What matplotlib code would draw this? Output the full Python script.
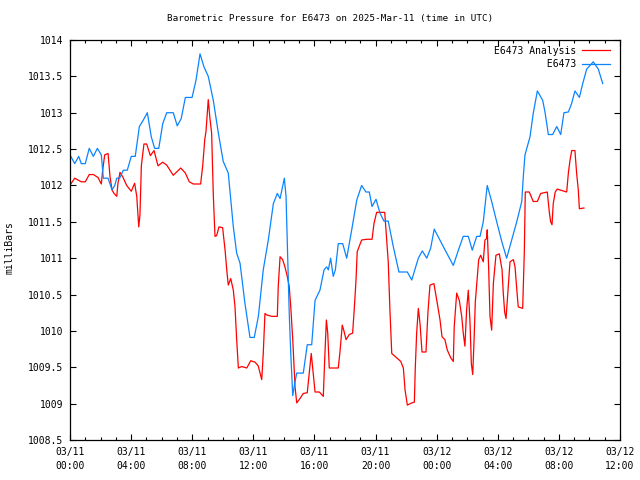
import numpy as np
import pandas as pd
import matplotlib
matplotlib.use('Agg')
import matplotlib.pyplot as plt
import matplotlib.dates as mdates
from matplotlib.ticker import MultipleLocator, FormatStrFormatter

# 观测值 (E6473) —— 距 2025-03-11 00:00 的小时数, 以及气压 (mb)
obs_hours = [0.05, 0.31, 0.57, 0.74, 1.00, 1.26, 1.53, 1.79, 2.05, 2.18, 2.49, 2.75, 2.93,
             3.06, 3.25, 3.49, 3.75, 4.01, 4.27, 4.54, 4.80, 5.06, 5.32, 5.54, 5.81, 6.07,
             6.33, 6.76, 7.02, 7.28, 7.55, 7.99, 8.25, 8.51, 8.77, 9.05, 9.38, 9.71, 10.03,
             10.36, 10.69, 10.91, 11.13, 11.45, 11.78, 12.06, 12.33, 12.65, 12.98, 13.31,
             13.57, 13.75, 13.96, 14.03, 14.14, 14.22, 14.35, 14.45, 14.58, 14.71, 14.84,
             15.27, 15.53, 15.82, 16.04, 16.36, 16.63, 16.80, 16.91, 17.06, 17.23, 17.37,
             17.56, 17.85, 18.11, 18.44, 18.77, 19.09, 19.37, 19.59, 19.77, 20.03, 20.29,
             20.55, 20.83, 21.16, 21.53, 22.08, 22.37, 22.80, 23.06, 23.35, 23.61, 23.84,
             24.43, 25.09, 25.42, 25.74, 26.07, 26.33, 26.62, 26.84, 27.05, 27.31, 27.60,
             27.93, 28.26, 28.58, 28.91, 29.24, 29.57, 29.67, 29.78, 30.11, 30.32, 30.59,
             30.94, 31.09, 31.31, 31.59, 31.86, 32.12, 32.33, 32.62, 32.84, 33.05, 33.34,
             33.56, 33.82, 34.25, 34.58, 34.87]
obs_mb = [1012.40, 1012.30, 1012.40, 1012.30, 1012.30, 1012.51, 1012.40, 1012.51, 1012.42,
          1012.10, 1012.10, 1011.94, 1012.00, 1012.10, 1012.10, 1012.21, 1012.21, 1012.40,
          1012.40, 1012.81, 1012.90, 1013.00, 1012.67, 1012.51, 1012.51, 1012.85, 1013.00,
          1013.00, 1012.82, 1012.92, 1013.21, 1013.21, 1013.45, 1013.81, 1013.63, 1013.50,
          1013.17, 1012.72, 1012.33, 1012.17, 1011.43, 1011.07, 1010.93, 1010.38, 1009.91,
          1009.91, 1010.20, 1010.84, 1011.25, 1011.75, 1011.89, 1011.82, 1012.03, 1012.10,
          1011.85, 1011.25, 1010.24, 1009.69, 1009.11, 1009.28, 1009.42, 1009.42, 1009.81,
          1009.81, 1010.42, 1010.56, 1010.84, 1010.88, 1010.84, 1011.00, 1010.75, 1010.84,
          1011.20, 1011.20, 1011.00, 1011.39, 1011.80, 1012.00, 1011.91, 1011.91, 1011.71,
          1011.81, 1011.62, 1011.51, 1011.51, 1011.16, 1010.81, 1010.81, 1010.70, 1011.00,
          1011.10, 1011.00, 1011.14, 1011.40, 1011.16, 1010.90, 1011.11, 1011.30, 1011.30,
          1011.11, 1011.30, 1011.30, 1011.50, 1012.00, 1011.78, 1011.50, 1011.23, 1011.00,
          1011.25, 1011.50, 1011.78, 1012.12, 1012.42, 1012.67, 1012.99, 1013.30, 1013.17,
          1013.01, 1012.70, 1012.70, 1012.81, 1012.70, 1013.00, 1013.01, 1013.13, 1013.30,
          1013.21, 1013.40, 1013.60, 1013.70, 1013.60, 1013.40]

# 分析值 (E6473 Analysis)
ana_hours = [0.05, 0.31, 0.74, 1.00, 1.26, 1.53, 1.83, 2.05, 2.14, 2.27, 2.49, 2.62, 2.75,
             2.88, 3.06, 3.14, 3.27, 3.45, 3.71, 4.01, 4.23, 4.37, 4.50, 4.58, 4.67, 4.84,
             5.02, 5.26, 5.50, 5.76, 6.07, 6.33, 6.76, 7.25, 7.55, 7.81, 8.07, 8.55, 8.69,
             8.82, 8.90, 9.05, 9.16, 9.27, 9.38, 9.49, 9.60, 9.75, 9.99, 10.15, 10.26,
             10.36, 10.52, 10.69, 10.80, 10.91, 11.02, 11.24, 11.57, 11.83, 12.11, 12.32,
             12.44, 12.55, 12.65, 12.76, 12.87, 13.20, 13.57, 13.63, 13.75, 13.92, 14.07,
             14.22, 14.35, 14.45, 14.58, 14.73, 14.84, 15.05, 15.27, 15.53, 15.66, 15.79,
             15.92, 16.04, 16.32, 16.58, 16.67, 16.78, 16.87, 16.97, 17.56, 17.67, 17.82,
             17.93, 18.07, 18.28, 18.50, 18.63, 18.72, 18.80, 19.09, 19.42, 19.77, 19.90,
             20.07, 20.60, 20.73, 20.83, 20.94, 21.06, 21.38, 21.65, 21.82, 21.93, 22.08,
             22.37, 22.54, 22.60, 22.69, 22.80, 22.91, 23.04, 23.30, 23.43, 23.56, 23.82,
             24.04, 24.22, 24.35, 24.54, 24.69, 24.92, 25.09, 25.15, 25.31, 25.48, 25.64,
             25.74, 25.85, 25.96, 26.07, 26.18, 26.27, 26.36, 26.44, 26.53, 26.62, 26.75,
             26.88, 27.05, 27.16, 27.27, 27.31, 27.40, 27.49, 27.60, 27.71, 27.88, 28.10,
             28.28, 28.36, 28.45, 28.54, 28.67, 28.80, 29.02, 29.13, 29.24, 29.34, 29.63,
             29.67, 29.74, 29.80, 30.06, 30.32, 30.59, 30.81, 31.24, 31.37, 31.46, 31.55,
             31.63, 31.76, 31.89, 32.51, 32.62, 32.73, 32.84, 33.05, 33.16, 33.27, 33.34,
             33.64]
ana_mb = [1012.02, 1012.10, 1012.05, 1012.05, 1012.15, 1012.15, 1012.11, 1012.02, 1012.21,
          1012.42, 1012.44, 1012.12, 1011.94, 1011.89, 1011.85, 1012.03, 1012.18, 1012.12,
          1012.00, 1011.92, 1012.03, 1011.85, 1011.43, 1011.60, 1012.27, 1012.57, 1012.57,
          1012.41, 1012.48, 1012.27, 1012.32, 1012.28, 1012.14, 1012.24, 1012.17, 1012.05,
          1012.02, 1012.02, 1012.28, 1012.63, 1012.74, 1013.18, 1012.92, 1012.72, 1011.87,
          1011.30, 1011.31, 1011.43, 1011.42, 1011.11, 1010.84, 1010.63, 1010.72, 1010.56,
          1010.33, 1009.88, 1009.49, 1009.51, 1009.49, 1009.59, 1009.57, 1009.52, 1009.42,
          1009.33, 1009.69, 1010.24, 1010.22, 1010.20, 1010.20, 1010.61, 1011.02, 1010.98,
          1010.88, 1010.75, 1010.61, 1010.33, 1009.88, 1009.23, 1009.01, 1009.07, 1009.14,
          1009.15, 1009.42, 1009.69, 1009.42, 1009.16, 1009.16, 1009.10, 1009.60, 1010.15,
          1009.97, 1009.49, 1009.49, 1009.71, 1010.08, 1010.00, 1009.88, 1009.95, 1009.97,
          1010.38, 1010.70, 1011.09, 1011.25, 1011.26, 1011.26, 1011.48, 1011.63, 1011.63,
          1011.25, 1010.95, 1010.29, 1009.69, 1009.63, 1009.58, 1009.49, 1009.19, 1008.98,
          1009.01, 1009.02, 1009.49, 1009.97, 1010.31, 1010.10, 1009.71, 1009.71, 1010.26,
          1010.63, 1010.65, 1010.38, 1010.15, 1009.92, 1009.88, 1009.74, 1009.63, 1009.58,
          1010.06, 1010.52, 1010.42, 1010.20, 1009.97, 1009.79, 1010.29, 1010.56, 1010.13,
          1009.55, 1009.40, 1009.83, 1010.40, 1010.63, 1010.98, 1011.04, 1010.95, 1011.25,
          1011.27, 1011.39, 1010.88, 1010.20, 1010.01, 1010.65, 1011.04, 1011.06, 1010.84,
          1010.52, 1010.26, 1010.17, 1010.56, 1010.95, 1010.98, 1010.88, 1010.58, 1010.33,
          1010.31, 1010.61, 1011.11, 1011.91, 1011.91, 1011.78, 1011.78, 1011.89, 1011.91,
          1011.64, 1011.50, 1011.46, 1011.75, 1011.91, 1011.95, 1011.91, 1012.17, 1012.35,
          1012.48, 1012.48, 1012.17, 1011.94, 1011.68, 1011.69]

start = pd.Timestamp('2025-03-11 00:00')
obs_t = start + pd.to_timedelta(obs_hours, unit='h')
ana_t = start + pd.to_timedelta(ana_hours, unit='h')

plt.rcParams['font.family'] = ['DejaVu Sans Mono']
plt.rcParams['font.size'] = 7

fig = plt.figure(figsize=(6.4, 4.8), dpi=100)
ax = fig.add_axes([70/640, 40/480, 550/640, 400/480])

ax.plot(ana_t, ana_mb, color='#ff0000', lw=0.9, label='E6473 Analysis')
ax.plot(obs_t, obs_mb, color='#0a84ff', lw=0.9, label='         E6473')

ax.set_xlim(start, start + pd.Timedelta(hours=36))
ax.set_ylim(1008.5, 1014)

ax.xaxis.set_major_locator(mdates.HourLocator(byhour=range(0, 24, 4)))
ax.xaxis.set_minor_locator(mdates.HourLocator())
ax.xaxis.set_major_formatter(mdates.DateFormatter('%m/%d\n%H:%M'))
ax.yaxis.set_major_locator(MultipleLocator(0.5))
ax.yaxis.set_major_formatter(FormatStrFormatter('%g'))

ax.tick_params(which='both', direction='in', top=True, right=True, width=0.8, colors='black')
ax.tick_params(which='major', length=4.5, pad=5)
ax.tick_params(which='minor', length=2.5)
for lbl in ax.get_xticklabels():
    lbl.set_linespacing(1.55)
for s in ax.spines.values():
    s.set_linewidth(0.9)

fig.text(10/640, 1 - 248/480, 'milliBars', rotation=90, ha='center', va='center')
fig.text(330/640, 1 - 19/480, 'Barometric Pressure for E6473 on 2025-Mar-11 (time in UTC)',
         ha='center', va='center', fontsize=6.7)

ax.legend(loc='upper right', bbox_to_anchor=(0.993, 1.0), frameon=False, markerfirst=False,
          handlelength=2.9, handletextpad=0.6, labelspacing=0.35, borderaxespad=0.2, fontsize=7)

fig.savefig('out.png', dpi=100)
